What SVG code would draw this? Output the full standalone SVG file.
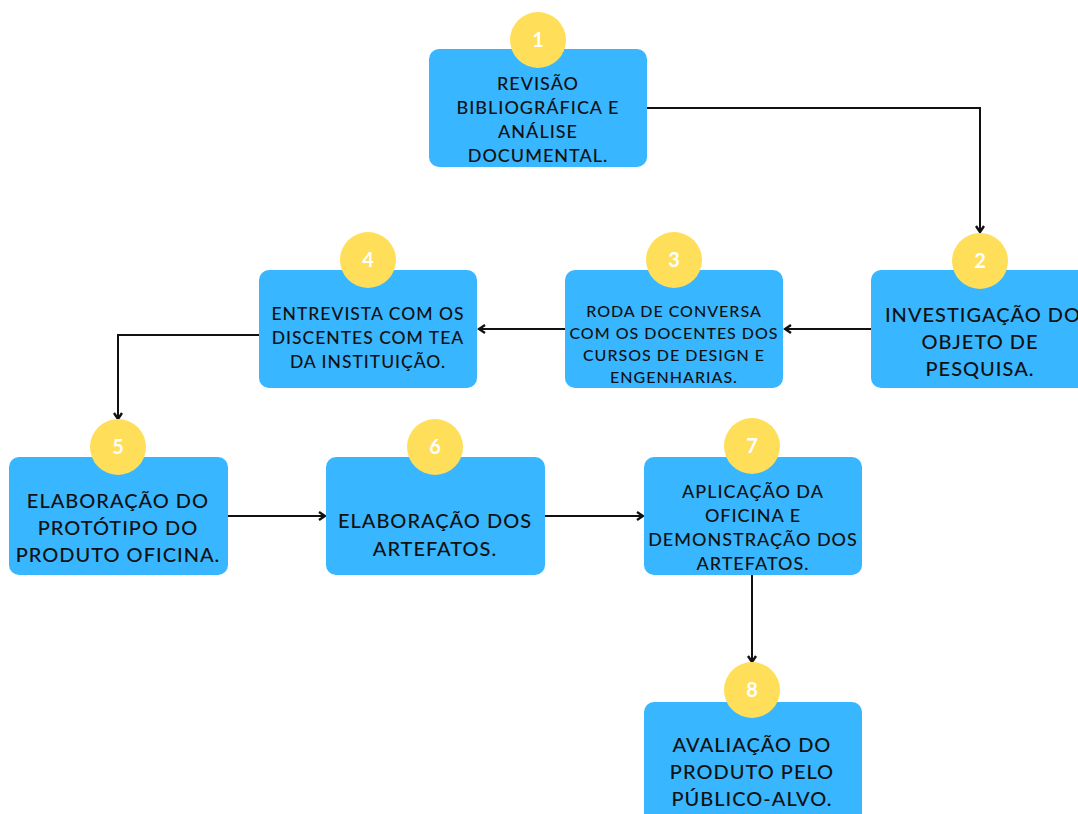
<svg xmlns="http://www.w3.org/2000/svg" width="1078" height="814" viewBox="0 0 1078 814">
<defs>
<style>
.box{fill:#38B6FF}
.num{fill:#FFDE59}
.t{font-family:Lato,"Liberation Sans",sans-serif;fill:#111;text-anchor:middle;font-weight:500;letter-spacing:1px}
.n{font-family:Lato,"Liberation Sans",sans-serif;fill:#fff;text-anchor:middle;font-weight:700;font-size:20px}
.c{fill:none;stroke:#111;stroke-width:2}
</style>
<marker id="ah" markerWidth="10" markerHeight="10" refX="8" refY="5" orient="auto" markerUnits="userSpaceOnUse">
<path d="M2,1 L8,5 L2,9" fill="none" stroke="#111" stroke-width="2.4"/>
</marker>
</defs>
<rect width="1078" height="814" fill="#fff"/>
<g id="connectors">
<path class="c" d="M647,108 H980 V232" marker-end="url(#ah)"/>
<path class="c" d="M871,329 H785" marker-end="url(#ah)"/>
<path class="c" d="M565,329 H479" marker-end="url(#ah)"/>
<path class="c" d="M259,335 H118 V419" marker-end="url(#ah)"/>
<path class="c" d="M228,516 H325" marker-end="url(#ah)"/>
<path class="c" d="M545,516 H643" marker-end="url(#ah)"/>
<path class="c" d="M752,575 V662" marker-end="url(#ah)"/>
</g>
<g id="node1">
<rect class="box" x="429" y="49" width="218" height="118" rx="10"/>
<circle class="num" cx="538" cy="40" r="28"/>
<text class="n" x="538" y="47">1</text>
<text class="t" font-size="18"><tspan x="538" y="90">REVISÃO</tspan><tspan x="538" y="114">BIBLIOGRÁFICA E</tspan><tspan x="538" y="138">ANÁLISE</tspan><tspan x="538" y="162">DOCUMENTAL.</tspan></text>
</g>
<g id="node2">
<rect class="box" x="871" y="270" width="218" height="118" rx="10"/>
<circle class="num" cx="980" cy="261" r="28"/>
<text class="n" x="980" y="268">2</text>
<text class="t" font-size="20"><tspan x="983" y="322">INVESTIGAÇÃO DO</tspan><tspan x="980" y="349">OBJETO DE</tspan><tspan x="980" y="376">PESQUISA.</tspan></text>
</g>
<g id="node3">
<rect class="box" x="565" y="270" width="218" height="118" rx="10"/>
<circle class="num" cx="674" cy="260" r="28"/>
<text class="n" x="674" y="267">3</text>
<text class="t" font-size="16"><tspan x="674" y="317">RODA DE CONVERSA</tspan><tspan x="674" y="339">COM OS DOCENTES DOS</tspan><tspan x="674" y="361">CURSOS DE DESIGN E</tspan><tspan x="674" y="383">ENGENHARIAS.</tspan></text>
</g>
<g id="node4">
<rect class="box" x="259" y="270" width="218" height="118" rx="10"/>
<circle class="num" cx="368" cy="260" r="28"/>
<text class="n" x="368" y="267">4</text>
<text class="t" font-size="17.5"><tspan x="368" y="320">ENTREVISTA COM OS</tspan><tspan x="368" y="344">DISCENTES COM TEA</tspan><tspan x="368" y="368">DA INSTITUIÇÃO.</tspan></text>
</g>
<g id="node5">
<rect class="box" x="9" y="457" width="219" height="118" rx="10"/>
<circle class="num" cx="118" cy="447" r="28"/>
<text class="n" x="118" y="454">5</text>
<text class="t" font-size="20"><tspan x="118" y="508">ELABORAÇÃO DO</tspan><tspan x="118" y="535">PROTÓTIPO DO</tspan><tspan x="118" y="562">PRODUTO OFICINA.</tspan></text>
</g>
<g id="node6">
<rect class="box" x="326" y="457" width="219" height="118" rx="10"/>
<circle class="num" cx="435" cy="447" r="28"/>
<text class="n" x="435" y="454">6</text>
<text class="t" font-size="20"><tspan x="435" y="528">ELABORAÇÃO DOS</tspan><tspan x="435" y="556">ARTEFATOS.</tspan></text>
</g>
<g id="node7">
<rect class="box" x="644" y="457" width="218" height="118" rx="10"/>
<circle class="num" cx="752" cy="446" r="28"/>
<text class="n" x="752" y="453">7</text>
<text class="t" font-size="18"><tspan x="753" y="498">APLICAÇÃO DA</tspan><tspan x="753" y="522">OFICINA E</tspan><tspan x="753" y="546">DEMONSTRAÇÃO DOS</tspan><tspan x="753" y="570">ARTEFATOS.</tspan></text>
</g>
<g id="node8">
<rect class="box" x="644" y="702" width="218" height="130" rx="10"/>
<circle class="num" cx="752" cy="690" r="28"/>
<text class="n" x="752" y="697">8</text>
<text class="t" font-size="20"><tspan x="752" y="752">AVALIAÇÃO DO</tspan><tspan x="752" y="779">PRODUTO PELO</tspan><tspan x="752" y="806">PÚBLICO-ALVO.</tspan></text>
</g>
</svg>
